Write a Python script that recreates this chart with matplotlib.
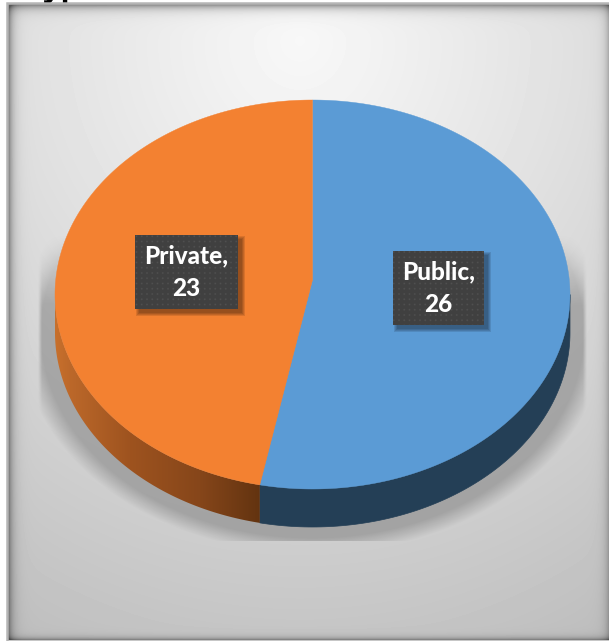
import matplotlib
matplotlib.use('Agg')
import matplotlib.pyplot as plt
import numpy as np
from matplotlib.patches import Polygon, Rectangle

# data
categories = ['Public', 'Private']
values = [26, 23]
colors = ['#5B9BD5', '#F38131']
title_text = 'Type'

W, H = 609, 641
fig = plt.figure(figsize=(W / 100, H / 100), dpi=100, facecolor='white')
ax = fig.add_axes([0, 0, 1, 1], frameon=False)
ax.set_xticks([])
ax.set_yticks([])

# panel bounds, pie ellipse (pixels)
px0, py0, px1, py1 = 8, 4, 609, 640
cx, cy, rx, ry = 312.5, 294.5, 257.5, 194.5
apex_y = 280   # the slices meet above the middle of the ellipse (perspective)
depth = 38

# title, nearly all of it is cut off at the top of the picture
ax.text(26, -3, title_text, fontsize=22, fontweight='bold', family='Open Sans',
        color='black', va='baseline', ha='left', clip_on=False, zorder=1)

# panel background: soft radial gradient + dark inner edge
yy, xx = np.mgrid[py0:py1, px0:px1] + 0.5
r = np.sqrt(((xx - 300) / 560) ** 2 + ((yy - 40) / 600) ** 2)
bg = 0.97 - 0.20 * r ** 1.1
edge = (np.exp(-(xx - px0) / 4.5) * 0.50 + np.exp(-(yy - py0) / 4.5) * 0.50 +
        np.exp(-(py1 - yy) / 2.5) * 0.40 + np.exp(-(px1 - xx) / 4.0) * 0.25)
bg = bg * (1 - np.clip(edge, 0, 0.6))
ax.imshow(bg, extent=(px0, px1, py1, py0), cmap='gray', vmin=0, vmax=1,
          aspect='auto', zorder=2, interpolation='bilinear')
ax.add_patch(Rectangle((px0 - 1, py0 - 1), px1 - px0 + 2, py1 - py0 + 2, fill=False,
                       ec='#b5b5b5', lw=1.8, zorder=3))

# blurred shadow under the pie, cut by a flat line at the bottom
sr = np.sqrt(((xx - cx) / (rx + 1)) ** 2 + ((yy - (cy + 38)) / (ry + 1)) ** 2)
sa = np.clip((1.13 - sr) / 0.08, 0, 1) * 0.47
sa = sa * np.clip((yy - 235) / 70, 0, 1) * (yy < 541)
sa = sa * np.clip((xx - 38) / 4, 0, 1) * np.clip((587 - xx) / 4, 0, 1)
shadow = np.zeros(sa.shape + (4,))
shadow[..., :3] = 0.45
shadow[..., 3] = sa
ax.imshow(shadow, extent=(px0, px1, py1, py0), aspect='auto', zorder=4)

# slice angles, clockwise from the top
fracs = np.array(values) / sum(values)
edges = np.concatenate([[0], np.cumsum(fracs)]) * 2 * np.pi


def rim(t):
    # small angle shift for the perspective of the 3d pie
    t = t + 0.037 * np.sin(2 * t)
    return cx + rx * np.sin(t), cy - ry * np.cos(t)


# side wall: right part plain, left part darkens towards the front
split = edges[1]
t = np.linspace(np.pi / 2, split, 120)
x, y = rim(t)
blue_side = np.r_[np.c_[x, y], np.c_[x, y + depth][::-1]]
ax.add_patch(Polygon(blue_side, fc='#243F56', ec='#243F56', lw=0.5, zorder=5))

t = np.linspace(split, 1.5 * np.pi, 160)
x, y = rim(t)
orange_side = np.r_[np.c_[x, y], np.c_[x, y + depth][::-1]]
clip = Polygon(orange_side, fc='none', ec='none', transform=ax.transData)
ax.add_patch(clip)
gx = np.linspace(55, 262, 208)
grad = np.zeros((1, gx.size, 3))
stops = [55, 70, 130, 200, 262]
grad[0, :, 0] = np.interp(gx, stops, [0xC8, 0xBC, 0x9E, 0x86, 0x62]) / 255
grad[0, :, 1] = np.interp(gx, stops, [0x70, 0x68, 0x53, 0x46, 0x33]) / 255
grad[0, :, 2] = np.interp(gx, stops, [0x2C, 0x2A, 0x1F, 0x1A, 0x10]) / 255
im = ax.imshow(grad, extent=(55, 262, 530, 290), aspect='auto', zorder=5)
im.set_clip_path(clip)

# top face
for i, name in enumerate(categories):
    t = np.linspace(edges[i], edges[i + 1], 300)
    x, y = rim(t)
    pts = np.r_[[[cx, apex_y]], np.c_[x, y]]
    ax.add_patch(Polygon(pts, fc=colors[i], ec=colors[i], lw=0.3, zorder=6))

# data labels: dark box, dotted texture, drop shadow
boxes = {'Public': (393, 251, 484, 325), 'Private': (135, 235, 238, 309)}
for name, val in zip(categories, values):
    x0, y0, x1, y1 = boxes[name]
    for k in range(4, 0, -1):
        ax.add_patch(Rectangle((x0 + 5 - k, y0 + 5 - k), x1 - x0 + 2 * k - 2, y1 - y0 + 2 * k - 2,
                               fc='black', ec='none', alpha=0.11, zorder=7))
    ax.add_patch(Rectangle((x0, y0), x1 - x0, y1 - y0, fc='#404040', ec='none', zorder=8))
    gy, gx2 = np.mgrid[y0:y1, x0:x1] + 0.5
    dots = (np.cos(2 * np.pi * gx2 / 10.5) * np.cos(2 * np.pi * gy / 10.5)) ** 2
    tex = np.zeros(dots.shape + (4,))
    tex[..., :3] = 1
    tex[..., 3] = dots ** 3 * 0.09
    ax.imshow(tex, extent=(x0, x1, y1, y0), aspect='auto', zorder=9)
    ax.text((x0 + x1) / 2, (y0 + y1) / 2 + 0.5, f'{name},\n{val}', color='white', fontsize=17.5,
            fontweight='black', family='Lato', ha='center', va='center',
            linespacing=1.5, zorder=10)

ax.set_xlim(0, W)
ax.set_ylim(H, 0)
fig.savefig('out.png', dpi=100, facecolor='white')
